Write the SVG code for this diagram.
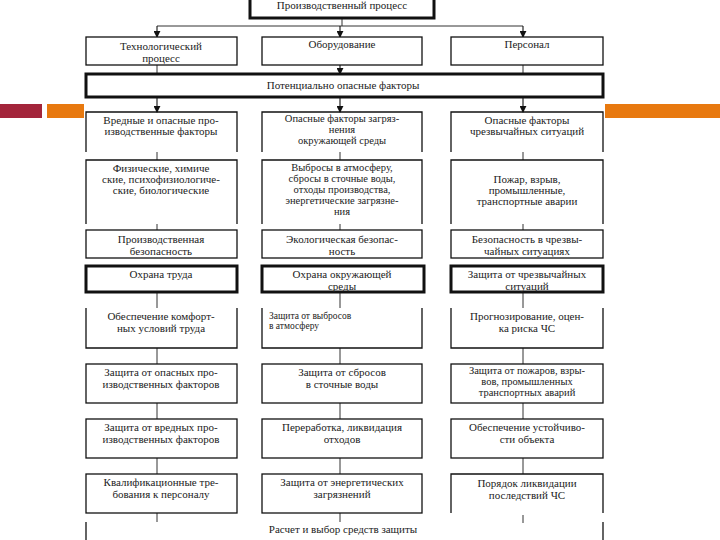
<svg xmlns="http://www.w3.org/2000/svg" width="720" height="540" viewBox="0 0 720 540" font-family="'Liberation Serif', 'DejaVu Serif', 'Times New Roman', serif">
<defs>
<marker id="ah" viewBox="0 0 8 8" refX="7" refY="4" markerWidth="7" markerHeight="7" markerUnits="userSpaceOnUse" orient="auto"><path d="M0,0 L8,4 L0,8 Z" fill="#111"/></marker>
<style>
.b{fill:#fff;stroke:#111;stroke-width:1.3}
.t{fill:#fff;stroke:#111;stroke-width:3}
.s{fill:none;stroke:#111;stroke-width:1.3}
.c{fill:none;stroke:#333;stroke-width:1}
.a{fill:none;stroke:#111;stroke-width:1.1;marker-end:url(#ah)}
text{font-family:'Liberation Serif','DejaVu Serif','Times New Roman',serif;font-size:11px;fill:#222;text-anchor:middle}
.sm{font-size:9.5px;text-anchor:start}
.x{font-size:10.5px}
</style>
</defs>
<rect width="720" height="540" fill="#fff"/>
<g id="bars">
<rect x="0" y="104" width="42" height="14" fill="#A3253B"/>
<rect x="47" y="104" width="37" height="14" fill="#E8790F"/>
<rect x="605" y="104" width="115" height="14" fill="#E8790F"/>
</g>
<g id="connectors">
<line class="c" x1="342" y1="18" x2="342" y2="26"/>
<line class="c" x1="157" y1="26" x2="523" y2="26"/>
<line class="a" x1="157" y1="26" x2="157" y2="37"/>
<line class="a" x1="340" y1="26" x2="340" y2="37"/>
<line class="a" x1="523" y1="26" x2="523" y2="37"/>
<line class="c" x1="157" y1="65" x2="157" y2="74"/>
<line class="a" x1="340" y1="65" x2="340" y2="74"/>
<line class="c" x1="523" y1="65" x2="523" y2="74"/>
<line class="a" x1="157" y1="97" x2="157" y2="112"/>
<line class="a" x1="340" y1="97" x2="340" y2="112"/>
<line class="a" x1="523" y1="97" x2="523" y2="112"/>
<line class="c" x1="157" y1="152" x2="157" y2="160"/>
<line class="c" x1="340" y1="152" x2="340" y2="160"/>
<line class="c" x1="523" y1="152" x2="523" y2="160"/>
<line class="c" x1="157" y1="224" x2="157" y2="230"/>
<line class="c" x1="340" y1="224" x2="340" y2="230"/>
<line class="c" x1="523" y1="224" x2="523" y2="230"/>
<line class="c" x1="157" y1="292" x2="157" y2="308"/>
<line class="c" x1="340" y1="292" x2="340" y2="308"/>
<line class="c" x1="523" y1="292" x2="523" y2="308"/>
<line class="c" x1="157" y1="348" x2="157" y2="364"/>
<line class="c" x1="340" y1="348" x2="340" y2="364"/>
<line class="c" x1="523" y1="348" x2="523" y2="364"/>
<line class="c" x1="157" y1="403" x2="157" y2="419"/>
<line class="c" x1="340" y1="403" x2="340" y2="419"/>
<line class="c" x1="523" y1="403" x2="523" y2="419"/>
<line class="c" x1="157" y1="458" x2="157" y2="474"/>
<line class="c" x1="340" y1="458" x2="340" y2="474"/>
<line class="c" x1="523" y1="458" x2="523" y2="474"/>
<line class="c" x1="157" y1="513" x2="157" y2="522"/>
<line class="c" x1="340" y1="513" x2="340" y2="522"/>
<line class="c" x1="523" y1="515" x2="523" y2="523"/>
<line class="s" x1="86" y1="522" x2="86" y2="540"/>
<line class="s" x1="603" y1="522" x2="603" y2="540"/>
</g>
<g id="n-process"><rect class="t" x="250" y="-4" width="184" height="22"/><text x="342" y="9">Производственный процесс</text></g>
<g id="n-tech"><rect class="b" x="86" y="37" width="151" height="28"/><text x="161" y="50">Технологический</text><text x="161" y="62">процесс</text></g>
<g id="n-equip"><rect class="b" x="262" y="37" width="160" height="28"/><text x="342" y="48">Оборудование</text></g>
<g id="n-staff"><rect class="b" x="451" y="37" width="152" height="28"/><text x="527" y="48">Персонал</text></g>
<g id="n-potential"><rect class="t" x="86" y="74" width="517" height="23"/><text x="343" y="89">Потенциально опасные факторы</text></g>

<g id="n-r2a"><path class="s" d="M86,152 V112 H237 V152"/><text x="161" y="124">Вредные и опасные про-</text><text x="161" y="135">изводственные факторы</text></g>
<g id="n-r2b"><path class="s" d="M262,152 V112 H422 V152"/><text class="x" x="342" y="122">Опасные факторы загряз-</text><text class="x" x="342" y="133">нения</text><text class="x" x="342" y="144">окружающей среды</text></g>
<g id="n-r2c"><path class="s" d="M451,152 V112 H603 V152"/><text x="527" y="124">Опасные факторы</text><text x="527" y="135">чрезвычайных ситуаций</text></g>

<g id="n-r3a"><path class="s" d="M86,224 V160 H237 V224"/><text x="161" y="172">Физические, химиче</text><text x="161" y="183">ские, психофизиологиче-</text><text x="161" y="194">ские, биологические</text></g>
<g id="n-r3b"><path class="s" d="M262,224 V160 H422 V224"/><text class="x" x="342" y="171">Выбросы в атмосферу,</text><text class="x" x="342" y="182">сбросы в сточные воды,</text><text class="x" x="342" y="193">отходы производства,</text><text class="x" x="342" y="204">энергетические загрязне-</text><text class="x" x="342" y="215">ния</text></g>
<g id="n-r3c"><path class="s" d="M451,224 V160 H603 V224"/><text x="527" y="183">Пожар, взрыв,</text><text x="527" y="194">промышленные,</text><text x="527" y="205">транспортные аварии</text></g>

<g id="n-r4a"><rect class="b" x="86" y="230" width="151" height="28"/><text x="161" y="243">Производственная</text><text x="161" y="255">безопасность</text></g>
<g id="n-r4b"><rect class="b" x="262" y="230" width="160" height="28"/><text x="342" y="243">Экологическая безопас-</text><text x="342" y="255">ность</text></g>
<g id="n-r4c"><rect class="b" x="451" y="230" width="152" height="28"/><text x="527" y="243">Безопасность в чрезвы-</text><text x="527" y="255">чайных ситуациях</text></g>

<g id="n-r5a"><rect class="t" x="86" y="266" width="151" height="26"/><text x="161" y="278">Охрана труда</text></g>
<g id="n-r5b"><rect class="t" x="262" y="266" width="162" height="26"/><text x="342" y="278">Охрана окружающей</text><text x="342" y="290">среды</text></g>
<g id="n-r5c"><rect class="t" x="451" y="266" width="152" height="26"/><text x="527" y="278">Защита от чрезвычайных</text><text x="527" y="290">ситуаций</text></g>

<g id="n-r6a"><path class="s" d="M86,308 V348 H237 V308"/><text x="161" y="320">Обеспечение комфорт-</text><text x="161" y="332">ных условий труда</text></g>
<g id="n-r6b"><path class="s" d="M262,308 V348 H422 V308"/><text class="sm" x="269" y="319">Защита от выбросов</text><text class="sm" x="269" y="329">в атмосферу</text></g>
<g id="n-r6c"><path class="s" d="M451,308 V348 H603 V308"/><text x="527" y="320">Прогнозирование, оцен-</text><text x="527" y="332">ка риска ЧС</text></g>

<g id="n-r7a"><rect class="b" x="86" y="364" width="151" height="39"/><text x="161" y="376">Защита от опасных про-</text><text x="161" y="388">изводственных факторов</text></g>
<g id="n-r7b"><rect class="b" x="262" y="364" width="160" height="39"/><text x="342" y="376">Защита от сбросов</text><text x="342" y="388">в сточные воды</text></g>
<g id="n-r7c"><rect class="b" x="451" y="364" width="152" height="39"/><text class="x" x="527" y="374">Защита от  пожаров, взры-</text><text class="x" x="527" y="385">вов, промышленных</text><text class="x" x="527" y="396">транспортных аварий</text></g>

<g id="n-r8a"><rect class="b" x="86" y="419" width="151" height="39"/><text x="161" y="431">Защита от вредных про-</text><text x="161" y="443">изводственных факторов</text></g>
<g id="n-r8b"><rect class="b" x="262" y="419" width="160" height="39"/><text x="342" y="431">Переработка, ликвидация</text><text x="342" y="443">отходов</text></g>
<g id="n-r8c"><rect class="b" x="451" y="419" width="152" height="39"/><text x="527" y="431">Обеспечение устойчиво-</text><text x="527" y="443">сти объекта</text></g>

<g id="n-r9a"><rect class="b" x="86" y="474" width="151" height="39"/><text x="161" y="486">Квалификационные тре-</text><text x="161" y="498">бования к персоналу</text></g>
<g id="n-r9b"><rect class="b" x="262" y="474" width="160" height="39"/><text x="342" y="486">Защита от энергетических</text><text x="342" y="498">загрязнений</text></g>
<g id="n-r9c"><path class="s" d="M451,513 V474 H603 V513"/><text x="527" y="487">Порядок ликвидации</text><text x="527" y="499">последствий ЧС</text></g>

<g id="n-calc"><text x="343" y="533">Расчет и выбор средств защиты</text></g>
</svg>
